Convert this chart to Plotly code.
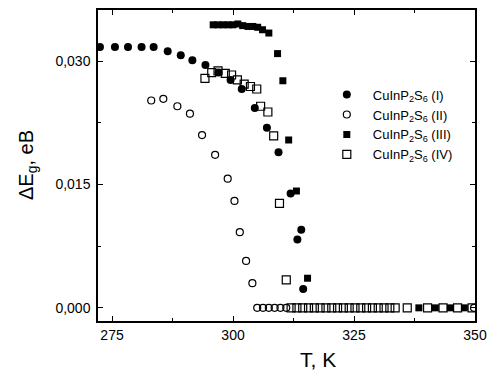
import plotly.graph_objects as go

# Series I: filled circles
t1 = [272.5, 275.6, 278.3, 281.1, 283.6, 286.5, 289.2, 291.6, 294.3, 297.0,
      299.5, 301.8, 304.5, 307.0, 309.4, 311.9, 313.3, 314.1, 314.5]
e1 = [0.0317, 0.0317, 0.0317, 0.0317, 0.0317, 0.0312, 0.0307, 0.0301, 0.0295, 0.0286,
      0.0277, 0.0266, 0.0243, 0.0219, 0.0189, 0.0139, 0.0083, 0.0095, 0.0023]

# Series II: open circles
t2 = [283.1, 285.6, 288.5, 291.1, 293.6, 296.3, 298.9, 300.3, 301.4, 302.7, 304.0,
      305.0, 306.2, 307.4, 308.6, 309.8, 311.0, 349.8]
e2 = [0.0252, 0.0254, 0.0245, 0.0236, 0.0210, 0.0186, 0.0157, 0.0130, 0.0092, 0.0057, 0.0030,
      0.0, 0.0, 0.0, 0.0, 0.0, 0.0, 0.0]

# Series III: filled squares
t3 = [295.9, 296.9, 297.95, 299.0, 300.0, 301.0, 302.0, 303.1, 304.1, 305.1, 306.1, 307.4,
      309.2, 310.3, 311.5, 313.1, 315.4,
      338.4, 341.8, 344.9, 347.8]
e3 = [0.0344, 0.0344, 0.0344, 0.0344, 0.0344, 0.0345, 0.0343, 0.0342, 0.0342, 0.0341, 0.0338, 0.0334,
      0.0309, 0.0276, 0.0204, 0.0142, 0.0036,
      0.0, 0.0, 0.0, 0.0]

# Series IV: open squares
t4 = [294.2, 295.6, 296.9, 298.4, 299.7, 300.9, 302.3, 303.6, 304.9, 305.7, 307.2, 308.4, 309.6, 311.0,
      312.0, 313.2, 314.4, 315.6, 316.8, 318.0, 319.2, 320.4, 321.6, 322.8, 324.0, 325.2, 326.4,
      327.6, 328.8, 330.0, 331.2, 332.4, 333.5, 336.0, 340.2, 343.4, 346.4, 349.4]
e4 = [0.0279, 0.0286, 0.0288, 0.0285, 0.0283, 0.0277, 0.0272, 0.0269, 0.0266, 0.0245, 0.0238, 0.0209, 0.0127, 0.0034,
      0.0, 0.0, 0.0, 0.0, 0.0, 0.0, 0.0, 0.0, 0.0, 0.0, 0.0, 0.0, 0.0,
      0.0, 0.0, 0.0, 0.0, 0.0, 0.0, 0.0, 0.0, 0.0, 0.0, 0.0]

names = ["CuInP<sub>2</sub>S<sub>6</sub> (I)", "CuInP<sub>2</sub>S<sub>6</sub> (II)",
         "CuInP<sub>2</sub>S<sub>6</sub> (III)", "CuInP<sub>2</sub>S<sub>6</sub> (IV)"]
x_ticks = [275, 300, 325, 350]
y_ticks = [0.0, 0.015, 0.030]

FONT = "Liberation Sans, Arial, sans-serif"
fig = go.Figure()
fig.add_trace(go.Scatter(x=t1, y=e1, mode="markers", name=names[0],
                         marker=dict(symbol="circle", size=8, color="black")))
fig.add_trace(go.Scatter(x=t2, y=e2, mode="markers", name=names[1],
                         marker=dict(symbol="circle-open", size=7, color="black", line=dict(width=1.2))))
fig.add_trace(go.Scatter(x=t3, y=e3, mode="markers", name=names[2],
                         marker=dict(symbol="square", size=7, color="black")))
fig.add_trace(go.Scatter(x=t4, y=e4, mode="markers", name=names[3],
                         marker=dict(symbol="square-open", size=8, color="black", line=dict(width=1.2))))

axis_common = dict(showgrid=False, zeroline=False, showline=True, linecolor="black", linewidth=1.5,
                   mirror="ticks", ticks="inside", ticklen=5, tickwidth=1.2, tickcolor="black",
                   ticklabeloverflow="allow",
                   tickfont=dict(family=FONT, size=14, color="black"))
fig.update_xaxes(range=[272.1, 350], tickvals=x_ticks,
                 minor=dict(ticks="inside", ticklen=3, tickvals=[287.5, 312.5, 337.5], tickcolor="black"),
                 **axis_common)
fig.update_yaxes(range=[-0.0016, 0.0362], tickvals=y_ticks, tickformat=".3f", ticklabelstandoff=3,
                 minor=dict(ticks="inside", ticklen=3, tickvals=[0.0075, 0.0225], tickcolor="black"),
                 **axis_common)

fig.update_layout(
    width=495, height=376,
    margin=dict(l=98, r=17, t=8, b=55),
    paper_bgcolor="white", plot_bgcolor="white",
    separators=",.",
    font=dict(family=FONT, color="black"),
    hovermode=False,
    legend=dict(x=0.591, y=0.776, xanchor="left", yanchor="top", bgcolor="rgba(0,0,0,0)",
                itemwidth=42, font=dict(family=FONT, size=13, color="black"), tracegroupgap=0),
    annotations=[
        dict(text="ΔE<sub>g</sub>, eB", xref="paper", yref="paper", x=-0.187, y=0.5,
             xanchor="center", yanchor="middle",
             textangle=-90, showarrow=False, font=dict(family=FONT, size=20, color="black")),
        dict(text="T, K", xref="paper", yref="paper", x=0.584, y=-0.125,
             xanchor="center", yanchor="middle",
             showarrow=False, font=dict(family=FONT, size=21, color="black")),
    ],
)
fig.write_html("out.html", config={"displayModeBar": False},
               post_script="document.body.style.margin='0';")
